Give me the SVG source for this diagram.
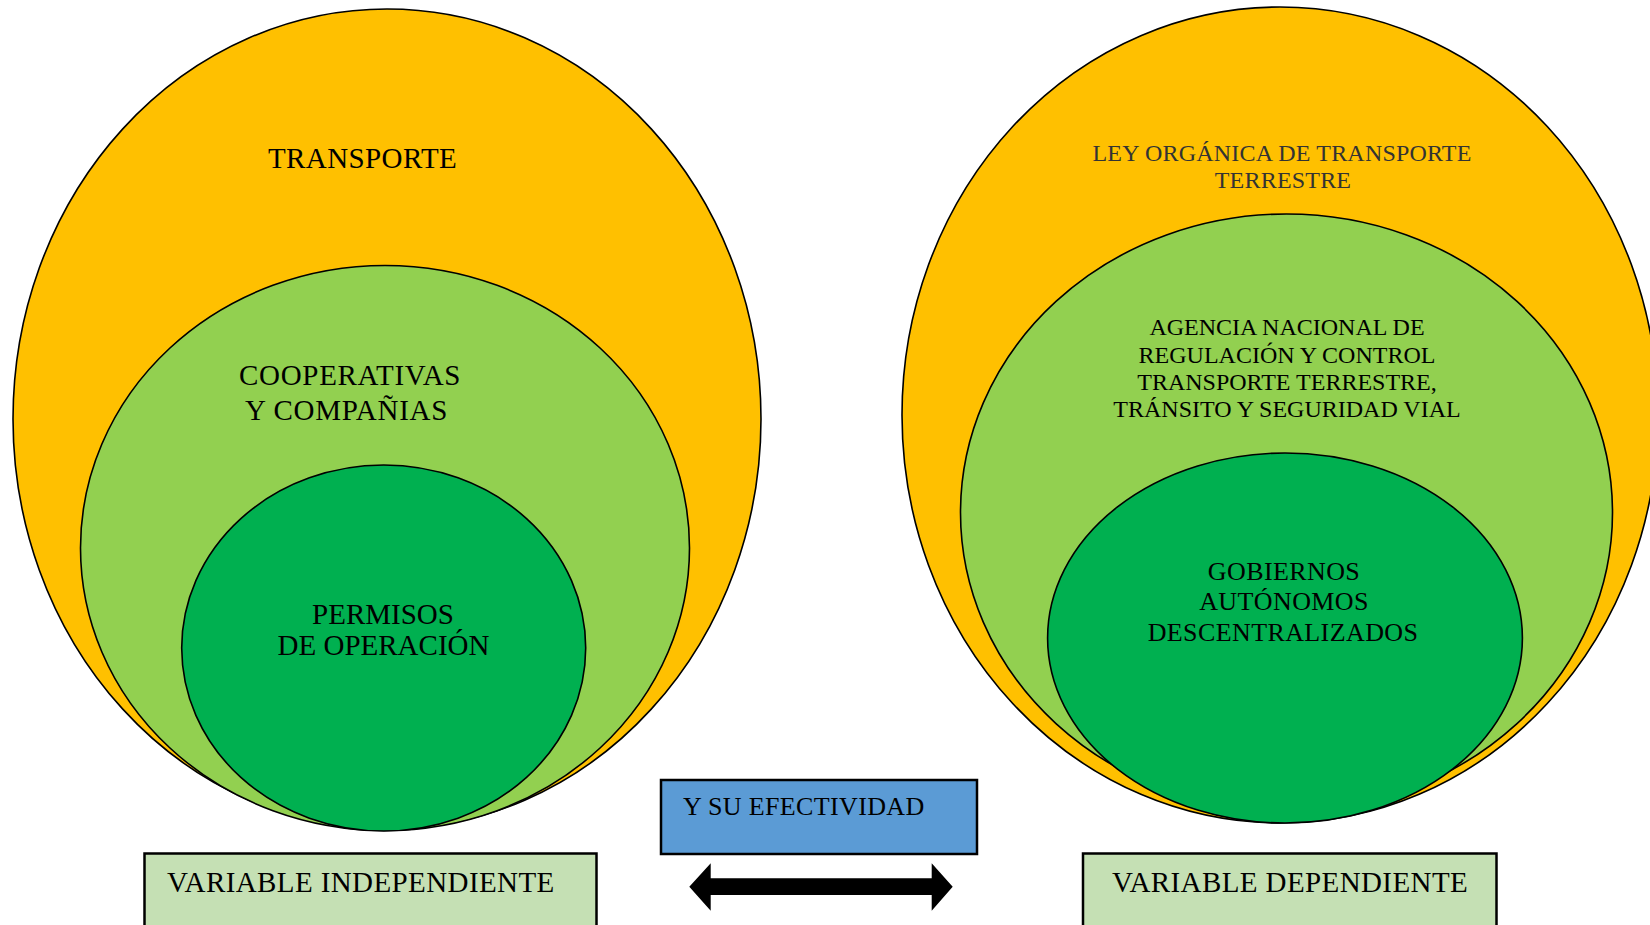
<svg xmlns="http://www.w3.org/2000/svg" width="1650" height="925" viewBox="0 0 1650 925">
<style>
.e{stroke:#000;stroke-width:1.6}
.o{fill:#ffc000}
.lg{fill:#92d050}
.dg{fill:#00b050}
.t{font-family:"Liberation Serif","Times New Roman",serif;fill:#000}
.c{text-anchor:middle}
.box{stroke:#000;stroke-width:2.5}
</style>
<rect width="1650" height="925" fill="#fff"/>
<g id="left-outer">
<ellipse class="e o" cx="387" cy="419" rx="374" ry="410"/>
<text class="t" x="268" y="167.5" font-size="29" letter-spacing="0.4">TRANSPORTE</text>
</g>
<g id="left-middle">
<ellipse class="e lg" cx="385" cy="548" rx="304.5" ry="282.5"/>
<text class="t" x="239" y="385" font-size="29" letter-spacing="0.7">COOPERATIVAS</text>
<text class="t" x="245" y="420" font-size="29" letter-spacing="0.7">Y COMPAÑIAS</text>
</g>
<g id="left-inner">
<ellipse class="e dg" cx="383.7" cy="648" rx="202" ry="183"/>
<text class="t c" x="383" y="623.5" font-size="29">PERMISOS</text>
<text class="t c" x="383.5" y="655" font-size="29">DE OPERACIÓN</text>
</g>
<g id="right-outer">
<ellipse class="e o" cx="1280" cy="415" rx="378" ry="408"/>
<text class="t c" x="1282" y="160.5" font-size="24" letter-spacing="0.2" style="fill:#333">LEY ORGÁNICA DE TRANSPORTE</text>
<text class="t c" x="1283" y="187.5" font-size="24" letter-spacing="0.2" style="fill:#333">TERRESTRE</text>
</g>
<g id="right-middle">
<ellipse class="e lg" cx="1286.5" cy="512.5" rx="326" ry="298.5"/>
<text class="t c" x="1287" y="335" font-size="24">AGENCIA NACIONAL DE</text>
<text class="t c" x="1287" y="363" font-size="24">REGULACIÓN Y CONTROL</text>
<text class="t c" x="1287" y="390" font-size="24">TRANSPORTE TERRESTRE,</text>
<text class="t c" x="1287" y="417" font-size="24">TRÁNSITO Y SEGURIDAD VIAL</text>
</g>
<g id="right-inner">
<ellipse class="e dg" cx="1285" cy="638" rx="237.4" ry="185"/>
<text class="t c" x="1284" y="579.5" font-size="26" letter-spacing="0.4">GOBIERNOS</text>
<text class="t c" x="1284" y="609.5" font-size="26" letter-spacing="0.4">AUTÓNOMOS</text>
<text class="t c" x="1283" y="641" font-size="26" letter-spacing="0.4">DESCENTRALIZADOS</text>
</g>
<g id="efectividad">
<rect class="box" x="661" y="780" width="316" height="74" fill="#5b9bd5"/>
<text class="t" x="683" y="815" font-size="26" letter-spacing="0.35">Y SU EFECTIVIDAD</text>
</g>
<g id="var-independiente">
<rect class="box" x="144.5" y="853.5" width="452" height="90" fill="#c5e0b4"/>
<text class="t" x="167" y="891.5" font-size="29" letter-spacing="0.4">VARIABLE INDEPENDIENTE</text>
</g>
<g id="var-dependiente">
<rect class="box" x="1083" y="853.5" width="413.5" height="90" fill="#c5e0b4"/>
<text class="t c" x="1290" y="891.5" font-size="29" letter-spacing="0.4">VARIABLE DEPENDIENTE</text>
</g>
<g id="connectors">
<polygon points="689.3,886.7 710.7,863.3 710.7,878.3 931.7,878.3 931.7,863.3 952.7,886.7 931.7,910.7 931.7,895 710.7,895 710.7,910.7" fill="#000"/>
</g>
</svg>
